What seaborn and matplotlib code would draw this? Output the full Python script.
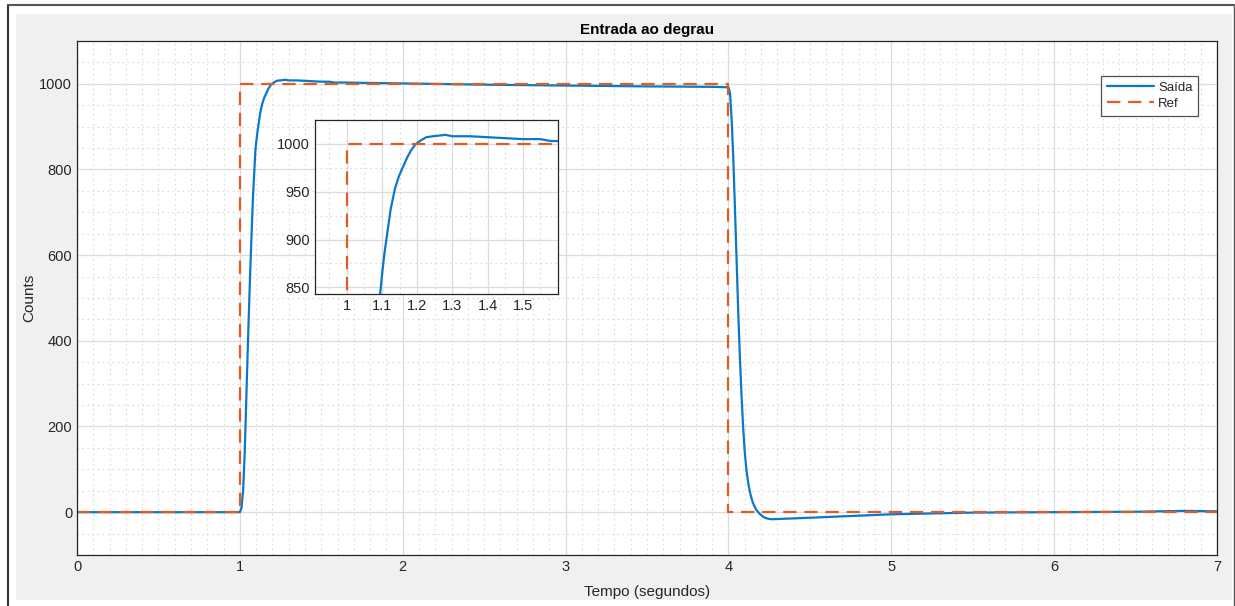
import numpy as np
import pandas as pd
import seaborn as sns
import matplotlib.pyplot as plt
from matplotlib.patches import Rectangle
from matplotlib.lines import Line2D
from matplotlib.ticker import MultipleLocator

# --- data ---
t_out = [0.0, 0.5, 1.0, 1.01, 1.02, 1.03, 1.04, 1.05, 1.06, 1.07, 1.08, 1.09,
         1.095, 1.10, 1.107, 1.115, 1.125, 1.137, 1.148, 1.16, 1.172, 1.184,
         1.192, 1.20, 1.212, 1.226, 1.245, 1.27, 1.28, 1.30, 1.35, 1.40, 1.45,
         1.50, 1.55, 1.58, 1.65, 1.8, 2.0, 2.5, 3.0, 3.5, 3.9, 4.0, 4.01,
         4.02, 4.03, 4.04, 4.05, 4.06, 4.07, 4.08, 4.09, 4.10, 4.11, 4.12,
         4.13, 4.14, 4.15, 4.17, 4.19, 4.21, 4.23, 4.26, 4.30, 4.5, 4.75,
         5.0, 5.25, 5.5, 6.0, 6.5, 6.8, 7.0]
y_out = [0, 0, 0, 10, 50, 140, 270, 400, 520, 630, 730, 805,
         843, 862, 885, 906, 932, 953, 966, 976, 986, 994,
         998, 1001, 1004, 1007, 1008, 1009, 1009.5, 1008, 1008, 1007, 1006,
         1005, 1005, 1003, 1003, 1002, 1001, 998, 996, 994, 993, 992, 978,
         915, 825, 710, 590, 470, 365, 275, 200, 142, 100, 72,
         50, 35, 22, 6, -3, -10, -14, -16.5, -16, -13, -9,
         -5, -3, -1, 0, 1, 3, 2]
t_ref = [0, 1, 1, 4, 4, 7]
y_ref = [0, 0, 1000, 1000, 0, 0]

blue = '#0a78c8'
orange = '#dd5d22'
axis_col = '#262626'
dash = (0, (6, 3.5))

df_out = pd.DataFrame({'t': t_out, 'y': y_out})
df_ref = pd.DataFrame({'t': t_ref, 'y': y_ref})

sns.set_style('white')
plt.rcParams['font.family'] = ['Liberation Sans', 'DejaVu Sans']

fig = plt.figure(figsize=(12.35, 6.06), dpi=100)
fig.patch.set_facecolor('white')
# grey window panel and dark frame, like the screenshot
fig.patches.append(Rectangle((16 / 1235, 6 / 606), (1232 - 16) / 1235, (592 - 6) / 606,
                             transform=fig.transFigure, facecolor='#f0f0f0', edgecolor='none', zorder=-5))
fig.lines.append(Line2D([8 / 1235, 8 / 1235], [0, 1 - 5 / 606], transform=fig.transFigure,
                        color='#333333', lw=1.5, zorder=-4))
fig.lines.append(Line2D([8 / 1235, 1234 / 1235], [1 - 5 / 606, 1 - 5 / 606], transform=fig.transFigure,
                        color='#555555', lw=1.5, zorder=-4))
fig.lines.append(Line2D([1234 / 1235, 1234 / 1235], [0, 1 - 5 / 606], transform=fig.transFigure,
                        color='#555555', lw=1.0, zorder=-4))


def style_axes(ax, xmaj, xmin, ymaj, ymin, fs):
    ax.set_facecolor('white')
    ax.xaxis.set_major_locator(MultipleLocator(xmaj))
    ax.xaxis.set_minor_locator(MultipleLocator(xmin))
    ax.yaxis.set_major_locator(MultipleLocator(ymaj))
    ax.yaxis.set_minor_locator(MultipleLocator(ymin))
    ax.grid(True, which='major', color='#dcdcdc', linewidth=0.9, linestyle='-')
    ax.grid(True, which='minor', color='#dadada', linewidth=0.8, linestyle=(0, (1.5, 3)))
    ax.set_axisbelow(True)
    for s in ax.spines.values():
        s.set_visible(True)
        s.set_color(axis_col)
        s.set_linewidth(0.9)
    ax.tick_params(which='major', direction='in', length=7, width=0.9, color=axis_col,
                   labelsize=fs, labelcolor=axis_col, top=False, right=False)
    ax.tick_params(which='minor', length=0)


ax = fig.add_axes([77 / 1235, 51 / 606, 1140 / 1235, 514 / 606])
sns.lineplot(data=df_out, x='t', y='y', ax=ax, color=blue, linewidth=1.6,
             estimator=None, sort=False, label='Saída')
sns.lineplot(data=df_ref, x='t', y='y', ax=ax, color=orange, linewidth=1.6,
             estimator=None, sort=False, label='Ref', linestyle=dash)
ax.set_xlim(0, 7)
ax.set_ylim(-100, 1100)
style_axes(ax, 1, 0.1, 200, 50, 10.5)
ax.set_xlabel('Tempo (segundos)', fontsize=11, color=axis_col, labelpad=8)
ax.set_ylabel('Counts', fontsize=11, color=axis_col, labelpad=2)
ax.set_title('Entrada ao degrau', fontsize=11, fontweight='bold', color='black', pad=5)
leg = ax.legend(loc='upper right', bbox_to_anchor=(0.9895, 0.9455), fontsize=9.5,
                frameon=True, fancybox=False, handlelength=3.6, borderpad=0.45,
                labelspacing=0.3, handletextpad=0.3)
leg.get_frame().set_edgecolor(axis_col)
leg.get_frame().set_linewidth(0.9)
for txt in leg.get_texts():
    txt.set_color(axis_col)

# inset zoom on the rise
axin = fig.add_axes([315 / 1235, 312 / 606, 243 / 1235, 174 / 606])
sns.lineplot(data=df_out, x='t', y='y', ax=axin, color=blue, linewidth=1.6,
             estimator=None, sort=False, legend=False)
sns.lineplot(data=df_ref, x='t', y='y', ax=axin, color=orange, linewidth=1.6,
             estimator=None, sort=False, legend=False, linestyle=dash)
axin.set_xlim(0.91, 1.6)
axin.set_ylim(843, 1025)
style_axes(axin, 0.1, 0.05, 50, 25, 10.5)
axin.set_xticks([1.0, 1.1, 1.2, 1.3, 1.4, 1.5])
axin.set_xticklabels(['1', '1.1', '1.2', '1.3', '1.4', '1.5'])
axin.set_xlabel('')
axin.set_ylabel('')

fig.savefig('out.png', dpi=100, facecolor=fig.get_facecolor())
